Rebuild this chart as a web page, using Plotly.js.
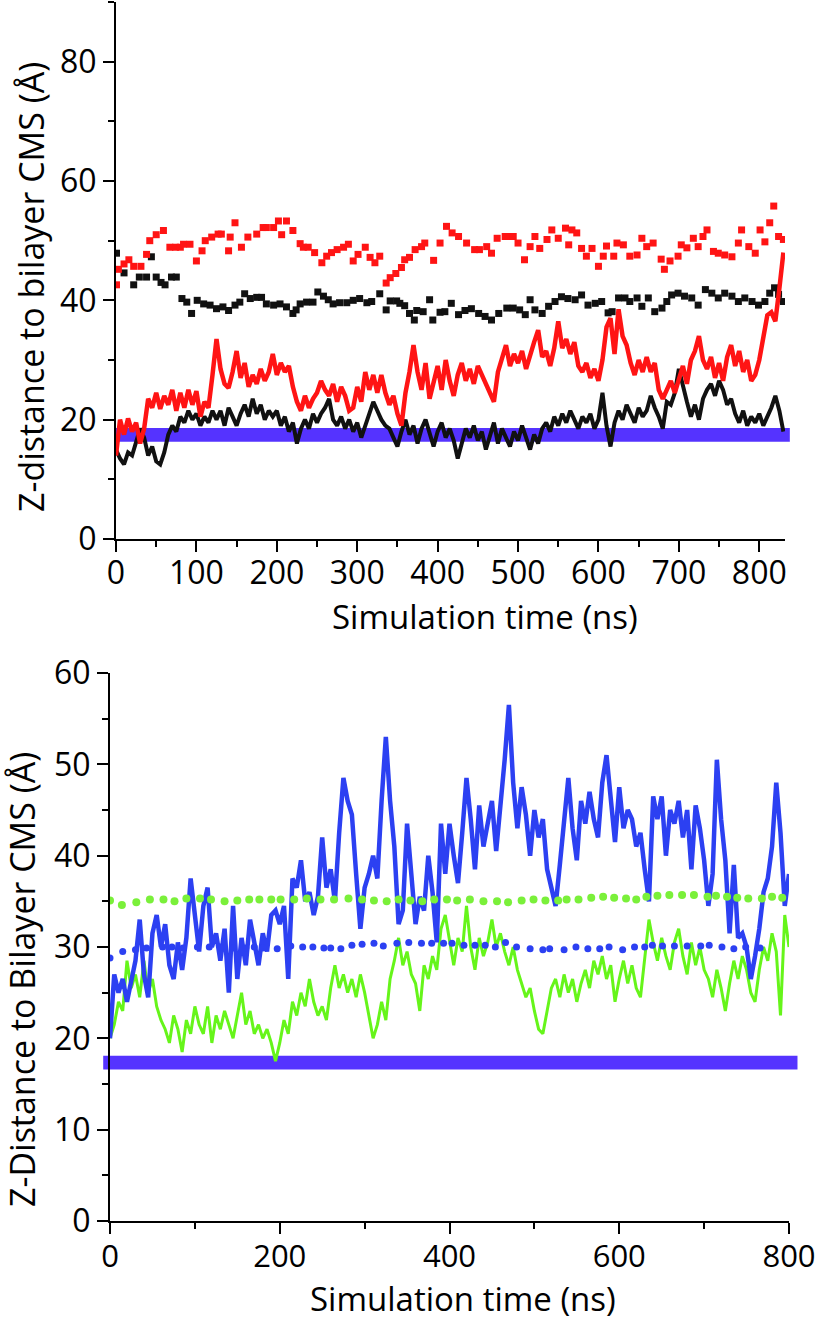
<!DOCTYPE html>
<html>
<head>
<meta charset="utf-8">
<script src="https://cdn.plot.ly/plotly-3.0.1.min.js"></script>
<style>
  html, body { margin: 0; padding: 0; background: #ffffff; }
  #chart { width: 816px; height: 1322px; }
</style>
</head>
<body>
<div id="chart"></div>
<script>
// ---------------- TOP PANEL DATA ----------------
const timeTop = [
  0,5,10,15,20,25,30,35,40,45,
  50,55,60,65,70,75,80,85,90,95,
  100,105,110,115,120,125,130,135,140,145,
  150,155,160,165,170,175,180,185,190,195,
  200,205,210,215,220,225,230,235,240,245,
  250,255,260,265,270,275,280,285,290,295,
  300,305,310,315,320,325,330,335,340,345,
  350,355,360,365,370,375,380,385,390,395,
  400,405,410,415,420,425,430,435,440,445,
  450,455,460,465,470,475,480,485,490,495,
  500,505,510,515,520,525,530,535,540,545,
  550,555,560,565,570,575,580,585,590,595,
  600,605,610,615,620,625,630,635,640,645,
  650,655,660,665,670,675,680,685,690,695,
  700,705,710,715,720,725,730,735,740,745,
  750,755,760,765,770,775,780,785,790,795,
  800,805,810,815,820,825,830
];
const redSolidTop = [
  14.0,20.0,17.5,20.2,18.0,19.5,16.0,18.5,23.5,22.0,
  24.5,21.8,24.0,22.5,25.0,21.5,24.5,22.0,25.0,22.5,
  24.8,20.5,23.0,22.0,27.5,33.5,28.5,26.0,25.3,28.0,
  31.5,27.0,29.5,25.5,27.5,26.0,28.5,26.5,28.0,31.0,
  27.5,29.5,28.0,29.0,25.5,23.0,21.5,24.0,22.0,23.5,
  24.5,26.5,25.0,24.0,26.0,23.0,25.5,24.0,21.5,22.0,
  25.5,23.0,28.0,25.0,27.5,24.5,27.5,24.5,22.5,24.0,
  21.0,19.0,24.5,28.0,32.5,28.0,25.0,29.5,23.5,26.0,
  29.0,25.0,30.0,26.5,24.0,27.5,29.5,26.5,28.5,26.0,
  29.0,27.5,26.0,24.5,23.0,28.0,30.0,32.5,29.0,31.0,
  29.5,31.5,28.5,31.0,33.0,35.0,30.5,31.5,29.0,32.0,
  36.5,32.0,33.5,31.0,33.0,29.0,28.0,29.5,27.0,28.5,
  26.5,30.0,35.5,37.0,31.0,38.5,34.0,32.5,29.5,27.5,
  30.0,28.0,30.5,28.0,29.5,25.0,23.5,25.0,26.5,24.5,
  27.0,29.0,26.0,30.0,31.5,34.0,30.0,28.5,30.5,27.0,
  29.5,26.5,30.5,32.5,29.0,31.5,28.0,30.0,26.5,27.5,
  30.0,34.0,37.5,38.0,36.5,42.0,48.0
];
const blackSolidTop = [
  15.0,13.5,12.5,14.5,14.0,16.5,18.5,17.0,14.0,15.5,
  13.0,12.5,14.5,17.5,19.0,18.0,20.5,19.5,21.5,20.0,
  21.0,19.0,20.5,19.5,21.5,20.0,21.5,19.0,22.0,20.5,
  19.0,21.0,22.5,20.5,23.5,21.0,22.5,20.0,21.5,20.5,
  21.5,19.0,20.5,18.0,19.5,16.0,18.5,20.0,18.5,21.0,
  19.5,21.0,22.0,23.5,20.0,19.0,20.5,18.5,20.0,18.0,
  19.5,17.0,19.0,20.5,23.0,21.5,20.0,19.0,18.5,17.0,
  15.5,18.0,20.0,17.5,19.0,16.0,18.5,20.0,17.5,15.5,
  18.0,19.5,17.0,18.5,16.5,13.5,16.0,18.5,17.0,19.0,
  16.5,18.0,15.0,17.5,19.5,16.0,18.5,17.0,15.5,18.0,
  16.5,19.0,17.0,15.0,17.5,16.0,18.5,19.5,18.0,20.5,
  19.0,21.0,19.5,21.5,20.0,18.5,20.5,19.5,21.0,18.5,
  20.0,24.5,19.0,15.5,19.5,21.5,20.0,22.5,21.0,19.5,
  22.0,20.5,21.5,24.0,22.0,20.5,18.5,23.0,22.5,24.5,
  28.5,25.5,23.0,20.5,22.5,20.0,23.5,25.0,26.0,24.0,
  26.5,25.0,22.5,23.5,21.0,19.5,21.5,19.0,20.5,19.5,
  21.0,19.0,20.5,22.0,24.0,21.5,18.0
];
const redDotTime = [
  0.6,3,10,16,22,31,38,42,50,59,67,74,80,84,92,100,107,111,119,127,
  131,140,142,148,156,164,175,183,187,196,202,206,212,220,229,233,239,247,256,262,
  268,275,283,289,295,301,310,316,322,328,336,341,348,355,359,365,372,380,384,395,
  403,411,418,426,436,446,452,461,467,474,484,489,494,500,508,515,521,527,536,542,
  550,559,563,567,573,579,585,592,600,606,610,619,623,631,639,648,654,660,668,678,
  682,689,699,703,710,718,724,730,735,743,749,757,766,774,778,787,795,801,807,813,
  818,824,830
];
const redDotValue = [
  42.6,45.2,46.1,46.8,45.7,45.7,47.7,50.0,51.0,51.7,48.9,48.9,48.9,49.4,49.4,46.6,48.3,50.0,50.6,51.1,
  51.1,48.3,50.6,53.0,48.9,50.6,51.1,52.2,52.2,52.2,53.3,51.0,53.3,51.7,49.5,48.9,48.9,48.0,46.3,47.4,
  48.0,48.5,48.9,49.4,46.6,47.7,48.9,47.2,46.3,47.4,42.9,43.8,44.5,45.5,46.8,47.2,48.5,49.0,49.6,46.7,
  49.6,52.4,51.3,50.7,49.6,48.5,48.5,49.0,47.9,50.4,50.7,50.7,50.7,49.6,46.8,49.0,50.7,48.7,50.2,51.8,
  50.4,52.1,49.3,51.8,51.3,48.7,47.4,48.7,45.7,47.4,49.1,47.4,49.6,49.3,47.4,47.6,50.4,49.0,49.6,46.9,
  45.2,46.6,47.4,49.3,48.8,50.4,49.0,50.7,51.8,48.2,47.9,47.6,47.3,49.6,51.8,49.0,47.9,51.8,49.8,53.0,
  55.8,50.7,50.2
];
const blackDotTime = [
  0.6,10,22,29,38,44,50,56,61,69,75,82,88,94,101,109,117,125,133,140,
  148,154,160,167,175,181,187,196,204,212,220,224,229,237,245,251,258,264,270,278,
  287,295,303,312,318,328,336,341,349,353,359,365,371,374,382,390,394,403,409,417,
  426,434,442,451,459,467,476,486,494,502,509,515,521,530,538,546,554,562,571,579,
  587,596,604,612,617,625,633,639,648,654,662,670,679,685,691,699,707,716,724,733,
  741,749,757,766,774,782,791,799,807,813,819,824,830
];
const blackDotValue = [
  47.9,44.6,42.6,43.9,43.9,47.3,43.9,43.0,42.6,43.9,43.9,40.3,39.7,37.8,40.0,39.4,39.2,38.6,38.9,38.3,
  39.2,39.7,41.1,40.3,40.5,40.5,39.4,39.2,39.4,38.9,37.8,38.4,39.4,39.7,39.7,41.4,40.7,40.1,39.4,39.6,
  39.6,40.0,40.3,39.6,39.8,41.1,38.4,39.9,39.9,39.5,39.1,37.8,36.7,38.3,38.1,40.1,36.7,38.0,38.1,39.5,
  37.6,38.3,38.6,37.8,37.3,36.7,37.8,38.7,38.7,38.4,37.6,40.1,38.4,37.8,39.0,39.8,40.6,40.3,40.1,40.9,
  39.2,39.5,39.8,37.9,38.1,40.4,40.4,39.8,40.4,39.0,40.4,38.1,38.7,39.8,40.9,41.2,40.7,40.4,39.2,41.8,
  41.2,40.4,41.2,40.7,39.8,40.4,39.8,39.2,39.8,41.2,42.1,41.0,39.8
];
const bilayerBandTopX = [0, 838];
const bilayerBandTopY = [16.3, 18.6];

// ---------------- BOTTOM PANEL DATA ----------------
const timeBottom = [
  0,5,10,15,20,25,30,35,40,45,
  50,55,60,65,70,75,80,85,90,95,
  100,105,110,115,120,125,130,135,140,145,
  150,155,160,165,170,175,180,185,190,195,
  200,205,210,215,220,225,230,235,240,245,
  250,255,260,265,270,275,280,285,290,295,
  300,305,310,315,320,325,330,335,340,345,
  350,355,360,365,370,375,380,385,390,395,
  400,405,410,415,420,425,430,435,440,445,
  450,455,460,465,470,475,480,485,490,495,
  500,505,510,515,520,525,530,535,540,545,
  550,555,560,565,570,575,580,585,590,595,
  600,605,610,615,620,625,630,635,640,645,
  650,655,660,665,670,675,680,685,690,695,
  700,705,710,715,720,725,730,735,740,745,
  750,755,760,765,770,775,780,785,790,795,
  800
];
const blueSolidBottom = [
  20.0,27.0,25.0,26.5,24.0,26.5,28.5,33.0,27.0,24.5,
  31.5,33.5,30.0,32.5,28.0,26.5,30.5,27.5,31.0,37.5,
  33.0,29.5,34.5,36.5,30.0,31.5,28.5,32.0,25.0,34.5,
  26.5,31.0,28.0,33.0,30.5,28.0,31.5,29.5,33.5,34.0,
  32.5,34.5,26.5,37.5,36.5,39.5,35.0,36.0,33.5,35.5,
  42.0,36.5,38.5,35.0,42.5,48.5,46.0,44.5,38.0,32.0,
  36.5,38.0,40.0,37.5,46.0,53.0,46.0,41.0,32.5,34.0,
  43.5,38.0,32.5,35.5,34.0,40.0,36.0,30.5,43.5,38.0,
  43.5,40.0,37.0,42.5,48.5,44.0,38.5,45.5,41.0,43.5,
  46.0,40.5,45.0,50.5,56.5,48.0,43.0,47.5,44.5,40.0,
  45.0,42.0,44.0,38.5,36.5,34.5,39.0,44.0,48.5,43.0,
  39.5,46.0,43.5,47.0,44.0,42.0,48.0,51.0,46.5,41.5,
  47.5,43.0,45.0,44.0,41.0,42.5,38.5,35.0,46.5,44.0,
  46.5,40.0,45.0,43.5,46.0,42.0,45.0,38.5,45.5,43.0,
  39.5,34.5,38.0,50.5,44.0,39.5,31.5,39.0,31.0,31.5,
  30.0,26.5,29.0,32.0,36.0,37.5,41.0,48.0,42.5,34.5,
  38.0
];
const greenSolidBottom = [
  20.0,21.5,24.0,23.0,28.5,25.5,27.0,24.5,28.5,25.0,
  26.5,23.5,22.0,21.0,19.5,22.5,21.0,18.5,22.0,20.5,
  23.5,21.5,20.5,23.5,19.5,22.5,21.0,23.0,21.5,20.0,
  22.5,25.0,21.5,23.0,20.5,21.5,20.0,21.0,19.5,17.5,
  19.5,22.0,20.5,24.0,22.5,25.0,23.5,26.5,24.0,22.5,
  23.5,22.0,25.5,28.0,25.5,27.0,25.0,26.5,24.5,27.0,
  25.0,22.5,20.0,21.5,24.0,22.0,26.5,28.5,31.0,28.0,
  29.5,27.0,26.0,23.0,28.0,26.5,29.0,27.5,32.0,33.5,
  30.5,28.0,31.0,29.5,34.5,30.0,27.5,31.0,29.0,30.5,
  33.0,30.0,31.5,29.5,28.0,30.0,27.5,26.0,24.5,25.5,
  23.0,21.0,20.5,23.0,25.5,26.5,24.5,27.0,25.0,26.5,
  24.0,26.0,27.5,25.5,28.5,27.0,29.0,26.5,28.0,24.0,
  26.5,28.5,26.0,28.0,25.5,24.5,29.0,33.0,30.5,28.5,
  31.0,29.0,27.5,30.5,32.0,29.0,27.0,30.5,28.0,30.0,
  27.5,26.5,24.5,27.5,25.5,23.0,26.0,28.5,26.5,29.0,
  27.5,25.0,24.0,27.5,30.0,28.5,31.5,29.5,22.5,33.5,
  30.0
];
const greenDotTime = [
  0,14,31,47,63,76,90,106,119,135,150,164,176,190,201,217,232,248,264,281,
  297,311,326,340,354,368,382,397,409,424,440,456,469,485,499,513,528,538,552,567,
  581,594,608,620,632,645,659,674,688,704,714,727,739,752,768,780,792
];
const greenDotValue = [
  35.1,34.6,34.9,35.2,35.2,35.0,35.3,35.3,35.2,35.0,35.1,35.2,35.2,35.2,35.2,35.2,35.3,35.2,35.2,35.3,
  35.2,35.1,35.0,35.2,35.1,35.0,35.2,35.2,35.1,35.2,35.0,35.0,34.9,35.1,35.2,35.1,35.1,35.2,35.2,35.4,
  35.5,35.4,35.3,35.2,35.5,35.6,35.7,35.7,35.7,35.5,35.6,35.5,35.4,35.3,35.3,35.5,35.4
];
const blueDotTime = [
  0,15,30,43,62,73,86,103,117,130,145,160,170,180,197,213,227,239,252,260,
  272,285,297,311,322,338,352,367,379,393,403,417,430,442,454,466,479,495,510,518,
  535,549,563,577,588,604,618,630,639,651,665,680,696,706,721,735,749,766
];
const blueDotValue = [
  28.8,29.5,29.7,29.9,30.0,30.0,29.9,30.0,30.0,30.0,29.9,29.9,30.0,29.9,29.8,30.1,30.0,30.0,29.9,29.9,
  29.8,30.2,30.3,30.4,30.1,30.4,30.5,30.4,30.4,30.4,30.4,30.2,30.2,30.2,30.0,30.5,30.0,29.8,29.7,29.8,
  29.7,30.0,29.8,29.8,30.0,29.7,30.0,30.0,30.2,30.1,30.1,30.1,30.1,30.2,30.0,29.8,30.0,29.9
];
const bilayerBandBottomX = [-8, 810];
const bilayerBandBottomY = [16.6, 18.1];

// ---------------- LABELS ----------------
const topYTitle = 'Z-distance to bilayer CMS (Å)';
const bottomYTitle = 'Z-Distance to Bilayer CMS (Å)';
const xTitle = 'Simulation time (ns)';

// ---------------- STYLE ----------------
const FONT = 'Open Sans, Noto Sans, sans-serif';
const RED = '#ff1414';
const BLACK = '#111111';
const BLUE = '#2c40f2';
const GREEN = '#66f51a';
const GREEN_DOT = '#7af03a';
const BAND = '#5533ff';

const topXRange = [0, 832], topYRange = [0, 90];
const botXRange = [0, 800], botYRange = [0, 60];

const traces = [
  {x: blackDotTime, y: blackDotValue, xaxis: 'x', yaxis: 'y', mode: 'markers',
   marker: {symbol: 'square', size: 7, color: BLACK}},
  {x: redDotTime, y: redDotValue, xaxis: 'x', yaxis: 'y', mode: 'markers',
   marker: {symbol: 'square', size: 7, color: RED}},
  {x: timeTop, y: blackSolidTop, xaxis: 'x', yaxis: 'y', mode: 'lines',
   line: {color: BLACK, width: 4}},
  {x: timeTop, y: redSolidTop, xaxis: 'x', yaxis: 'y', mode: 'lines',
   line: {color: RED, width: 4.5}},
  {x: timeBottom, y: greenSolidBottom, xaxis: 'x2', yaxis: 'y2', mode: 'lines',
   line: {color: GREEN, width: 3}},
  {x: timeBottom, y: blueSolidBottom, xaxis: 'x2', yaxis: 'y2', mode: 'lines',
   line: {color: BLUE, width: 4.5}},
  {x: greenDotTime, y: greenDotValue, xaxis: 'x2', yaxis: 'y2', mode: 'markers',
   marker: {symbol: 'circle', size: 8, color: GREEN_DOT}},
  {x: blueDotTime, y: blueDotValue, xaxis: 'x2', yaxis: 'y2', mode: 'markers',
   marker: {symbol: 'circle', size: 7, color: BLUE}}
];

function axisBase(range, dtick, minorDtick) {
  return {
    range: range, autorange: false, showgrid: false, zeroline: false,
    showline: true, linecolor: '#000', linewidth: 2,
    ticks: 'outside', ticklen: 11, tickwidth: 2, tickcolor: '#000',
    tick0: 0, dtick: dtick,
    minor: {ticks: 'outside', dtick: minorDtick, tick0: 0, ticklen: 6, tickwidth: 2, tickcolor: '#000', showgrid: false},
    tickfont: {family: FONT, size: 32, color: '#000'},
    ticklabeloverflow: 'allow',
    fixedrange: true
  };
}

const W = 816, H = 1322;
const layout = {
  width: W, height: H,
  margin: {l: 0, r: 0, t: 0, b: 0, pad: 0},
  paper_bgcolor: '#fff', plot_bgcolor: 'rgba(0,0,0,0)',
  showlegend: false,
  font: {family: FONT, color: '#000'},
  xaxis: Object.assign(axisBase(topXRange, 100, 50), {domain: [116/W, 785/W], anchor: 'y', ticklabelstandoff: -6}),
  yaxis: Object.assign(axisBase(topYRange, 20, 10), {domain: [(H-539)/H, (H-2)/H], anchor: 'x'}),
  xaxis2: Object.assign(axisBase(botXRange, 200, 100), {domain: [110/W, 789/W], anchor: 'y2', ticklabelstandoff: -4,
                                                        tickfont: {family: FONT, size: 31, color: '#000'}}),
  yaxis2: Object.assign(axisBase(botYRange, 10, 5), {domain: [(H-1221)/H, (H-673)/H], anchor: 'x2'}),
  shapes: [
    {type: 'rect', layer: 'below', xref: 'x domain', yref: 'y',
     x0: (bilayerBandTopX[0]-topXRange[0])/(topXRange[1]-topXRange[0]),
     x1: (bilayerBandTopX[1]-topXRange[0])/(topXRange[1]-topXRange[0]),
     y0: bilayerBandTopY[0], y1: bilayerBandTopY[1],
     fillcolor: BAND, line: {width: 0}},
    {type: 'rect', layer: 'below', xref: 'x2 domain', yref: 'y2',
     x0: (bilayerBandBottomX[0]-botXRange[0])/(botXRange[1]-botXRange[0]),
     x1: (bilayerBandBottomX[1]-botXRange[0])/(botXRange[1]-botXRange[0]),
     y0: bilayerBandBottomY[0], y1: bilayerBandBottomY[1],
     fillcolor: BAND, line: {width: 0}}
  ],
  annotations: [
    {text: xTitle, xref: 'paper', yref: 'paper', x: 485/W, y: (H-616)/H,
     xanchor: 'center', yanchor: 'middle', showarrow: false, font: {family: FONT, size: 33, color: '#000'}},
    {text: topYTitle, xref: 'paper', yref: 'paper', x: 31/W, y: (H-287)/H, textangle: -90,
     xanchor: 'center', yanchor: 'middle', showarrow: false, font: {family: FONT, size: 34, color: '#000'}},
    {text: xTitle, xref: 'paper', yref: 'paper', x: 463/W, y: (H-1298)/H,
     xanchor: 'center', yanchor: 'middle', showarrow: false, font: {family: FONT, size: 33, color: '#000'}},
    {text: bottomYTitle, xref: 'paper', yref: 'paper', x: 22/W, y: (H-980)/H, textangle: -90,
     xanchor: 'center', yanchor: 'middle', showarrow: false, font: {family: FONT, size: 34, color: '#000'}}
  ]
};

Plotly.newPlot('chart', traces, layout, {displayModeBar: false, staticPlot: true});
</script>
</body>
</html>
